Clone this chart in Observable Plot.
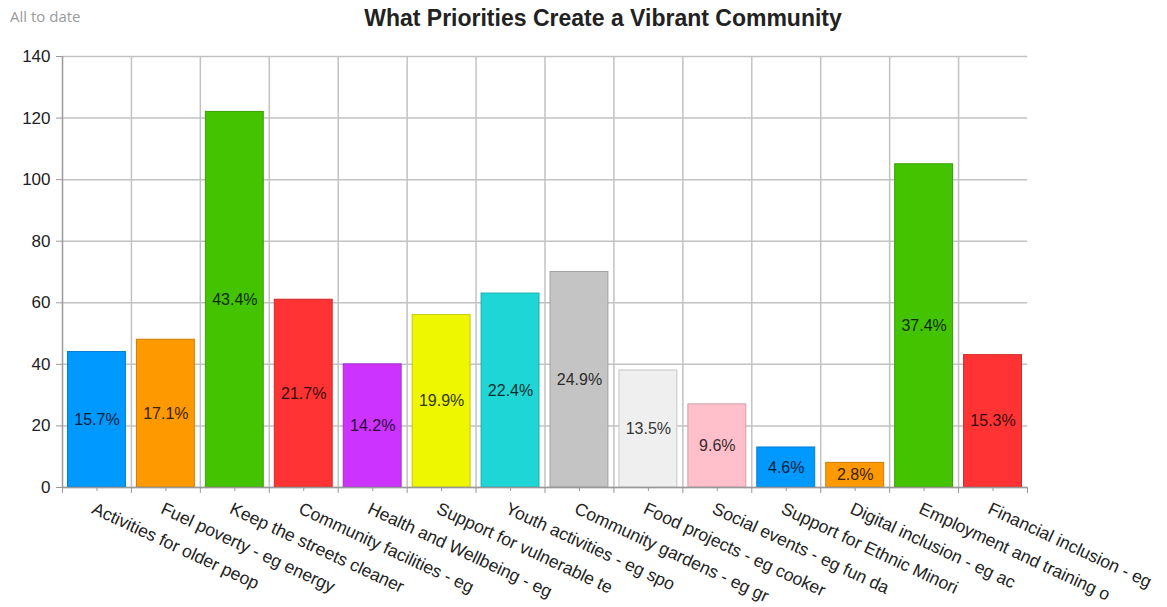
<!DOCTYPE html>
<html>
<head>
<meta charset="utf-8">
<script src="https://cdn.jsdelivr.net/npm/d3@7"></script>
<script src="https://cdn.jsdelivr.net/npm/@observablehq/plot@0.6"></script>
<style>
  html, body { margin: 0; padding: 0; background: #fff; }
  #wrap { position: relative; width: 1167px; height: 607px; font-family: "Liberation Sans", Arial, sans-serif; }
  #sub { position: absolute; left: 10px; top: 6px; font-size: 15px; color: #9a9a9a; font-family: "Open Sans", sans-serif; }
  #title { position: absolute; left: 0; width: 1206px; top: 5px; text-align: center; font-size: 23px; font-weight: bold; color: #222; }
  #chart { position: absolute; left: 0; top: 0; }
</style>
</head>
<body>
<div id="wrap">
  <div id="chart"></div>
  <div id="sub">All to date</div>
  <div id="title">What Priorities Create a Vibrant Community</div>
</div>
<script>
const categories = [
  "Activities for older peop",
  "Fuel poverty - eg energy",
  "Keep the streets cleaner",
  "Community facilities - eg",
  "Health and Wellbeing - eg",
  "Support for vulnerable te",
  "Youth activities - eg spo",
  "Community gardens - eg gr",
  "Food projects - eg cooker",
  "Social events - eg fun da",
  "Support for Ethnic Minori",
  "Digital inclusion - eg ac",
  "Employment and training o",
  "Financial inclusion - eg"
];
const values = [44, 48, 122, 61, 40, 56, 63, 70, 38, 27, 13, 8, 105, 43];
const percentLabels = ["15.7%", "17.1%", "43.4%", "21.7%", "14.2%", "19.9%", "22.4%", "24.9%", "13.5%", "9.6%", "4.6%", "2.8%", "37.4%", "15.3%"];
const barColors = ["#0099ff", "#ff9900", "#44c400", "#ff3333", "#cc33ff", "#eef600", "#1ed6d6", "#c4c4c4", "#efefef", "#ffc0cb", "#0099ff", "#ff9900", "#44c400", "#ff3333"];
const yTicks = [0, 20, 40, 60, 80, 100, 120, 140];

const data = categories.map((c, i) => ({
  idx: i,
  category: c,
  value: values[i],
  pct: percentLabels[i],
  color: barColors[i],
  stroke: d3.interpolateRgb(barColors[i], "#000")(0.18),
  textColor: d3.interpolateRgb(barColors[i], "#000")(0.78)
}));

const pad = 0.08;
const chart = Plot.plot({
  width: 1167,
  height: 607,
  marginLeft: 62,
  marginRight: 140,
  marginTop: 56,
  marginBottom: 120,
  style: { fontFamily: "Liberation Sans, Arial, sans-serif", background: "transparent" },
  x: { type: "linear", domain: [0, categories.length], axis: null },
  y: { domain: [0, 140], axis: null },
  marks: [
    Plot.ruleY(yTicks, { y: d => d, stroke: "#c2c2c2", strokeWidth: 1.5 }),
    Plot.ruleX(d3.range(1, categories.length), { x: d => d, stroke: "#c2c2c2", strokeWidth: 1.5 }),
    Plot.rect(data, {
      x1: d => d.idx + pad, x2: d => d.idx + 1 - pad,
      y1: 0, y2: "value",
      fill: "color", stroke: "stroke", strokeWidth: 1
    }),
    Plot.text(data, {
      x: d => d.idx + 0.5, y: d => d.value / 2,
      text: "pct", fill: "textColor", fontSize: 16
    }),
    Plot.ruleX([0], { x: d => d, stroke: "#999", strokeWidth: 1.5 }),
    Plot.ruleY([0], { y: d => d, stroke: "#999", strokeWidth: 1.5 }),
    Plot.axisY(yTicks, { label: null, tickSize: 6, tickPadding: 6, fontSize: 17, stroke: "#999", fill: "#222" }),
    Plot.axisX(d3.range(0, categories.length + 1), { label: null, tickSize: 6, tickFormat: () => "", stroke: "#999" }),
    Plot.axisX(d3.range(0, categories.length).map(i => i + 0.5), { label: null, tickSize: 4, tickFormat: () => "", stroke: "#999" }),
    Plot.text(data, {
      x: d => d.idx + 0.5, frameAnchor: "bottom",
      text: "category", rotate: 25, textAnchor: "start", lineAnchor: "top",
      dx: -1, dy: 14, fontSize: 17.5, fill: "#222"
    })
  ]
});
document.getElementById("chart").appendChild(chart);
</script>
</body>
</html>
